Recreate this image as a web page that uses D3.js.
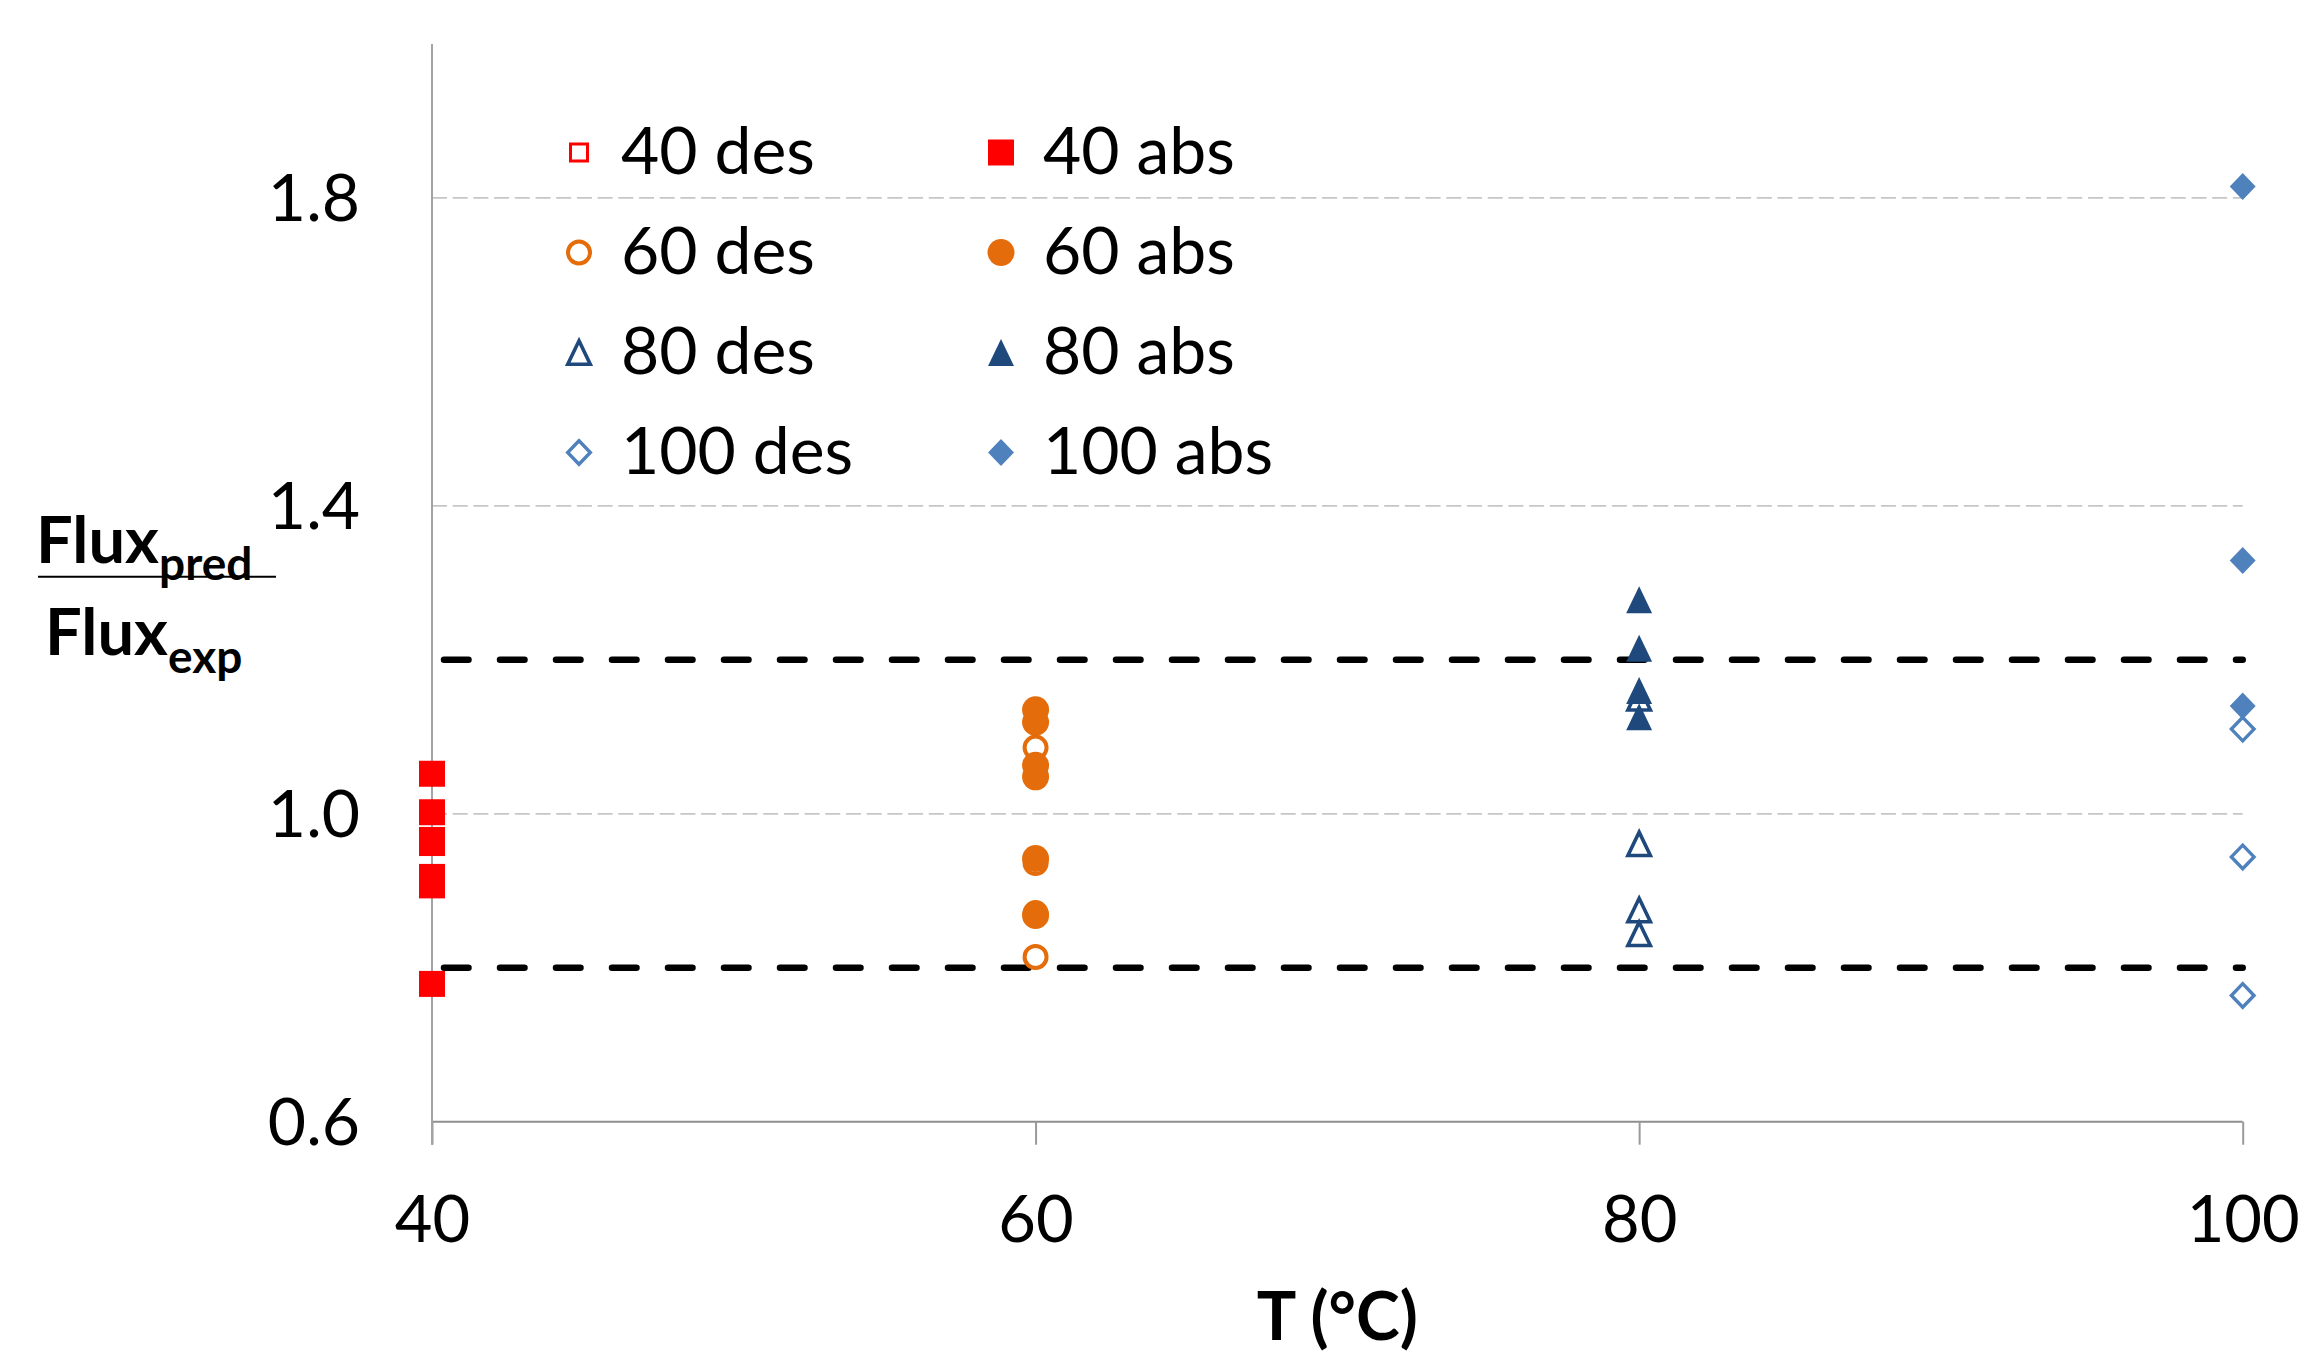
<!DOCTYPE html>
<html>
<head>
<meta charset="utf-8">
<script src="https://cdn.jsdelivr.net/npm/d3@7"></script>
<style>
  html, body { margin: 0; padding: 0; background: #ffffff; }
  svg { display: block; }
</style>
</head>
<body>
<svg id="chart" width="2302" height="1357"></svg>
<script>
// ---------- data ----------
const xTicks = [40, 60, 80, 100];
const yTicks = [0.6, 1.0, 1.4, 1.8];
const gridValues = [1.0, 1.4, 1.8];
const boundValues = [0.8, 1.2];

const des40 = [1.052, 1.002, 0.966, 0.918, 0.779];
const abs40 = [1.052, 1.002, 0.966, 0.962, 0.918, 0.907, 0.779];
const des60 = [1.086, 0.936, 0.871, 0.814];
const abs60 = [1.135, 1.119, 1.063, 1.048, 0.942, 0.868];
const des80 = [1.150, 0.961, 0.875, 0.844];
const abs80 = [1.278, 1.215, 1.160, 1.126];
const des100 = [1.110, 0.944, 0.764];
const abs100 = [1.815, 1.329, 1.140];

const seriesNames = ["40 des", "40 abs", "60 des", "60 abs", "80 des", "80 abs", "100 des", "100 abs"];

// ---------- layout ----------
const svg = d3.select("#chart");
const x = d3.scaleLinear().domain([40, 100]).range([432, 2242.7]);
const y = d3.scaleLinear().domain([0.6, 2.0]).range([1121.7, 44]);

const RED = "#FF0000", ORANGE = "#E46C0A", NAVY = "#1F497D", BLUE = "#4F81BD";
const FONT = "Lato, 'Liberation Sans', sans-serif";

// custom bbox-centred symbols; size = outer extent in px
const shapes = {
  square: { draw(c, s) { const h = s / 2; c.moveTo(-h, -h); c.lineTo(h, -h); c.lineTo(h, h); c.lineTo(-h, h); c.closePath(); } },
  circle: { draw(c, s) { const r = s / 2; c.moveTo(r, 0); c.arc(0, 0, r, 0, 2 * Math.PI); c.closePath(); } },
  triangle: { draw(c, s) { const h = s / 2, w = s * 0.96 / 2; c.moveTo(0, -h); c.lineTo(w, h); c.lineTo(-w, h); c.closePath(); } },
  diamond: { draw(c, s) { const h = s / 2, w = s * 0.96 / 2; c.moveTo(0, -h); c.lineTo(w, 0); c.lineTo(0, h); c.lineTo(-w, 0); c.closePath(); } }
};

const series = [
  { name: seriesNames[0], t: 40, vals: des40, shape: "square", color: RED, open: true, size: 20, sw: 3 },
  { name: seriesNames[1], t: 40, vals: abs40, shape: "square", color: RED, open: false, size: 26, sw: 0 },
  { name: seriesNames[2], t: 60, vals: des60, shape: "circle", color: ORANGE, open: true, size: 26, sw: 4 },
  { name: seriesNames[3], t: 60, vals: abs60, shape: "circle", color: ORANGE, open: false, size: 27, sw: 0 },
  { name: seriesNames[4], t: 80, vals: des80, shape: "triangle", color: NAVY, open: true, size: 27, sw: 3.6 },
  { name: seriesNames[5], t: 80, vals: abs80, shape: "triangle", color: NAVY, open: false, size: 27, sw: 0 },
  { name: seriesNames[6], t: 100, vals: des100, shape: "diamond", color: BLUE, open: true, size: 27, sw: 3.4 },
  { name: seriesNames[7], t: 100, vals: abs100, shape: "diamond", color: BLUE, open: false, size: 27, sw: 0 }
];

function markerPath(s) {
  const inner = s.open ? s.size - s.sw : s.size;
  return d3.symbol().type(shapes[s.shape]).size(inner)();
}
function styleMarker(sel, s) {
  if (s.open) sel.attr("fill", "#ffffff").attr("stroke", s.color).attr("stroke-width", s.sw).attr("stroke-linejoin", "miter");
  else sel.attr("fill", s.color).attr("stroke", "none");
}

// ---------- gridlines ----------
svg.append("g").selectAll("line").data(gridValues).join("line")
  .attr("x1", x(40)).attr("x2", x(100))
  .attr("y1", d => y(d)).attr("y2", d => y(d))
  .attr("stroke", "#C6C6C6").attr("stroke-width", 1.8)
  .attr("stroke-dasharray", "15 5.7");

// ---------- axes ----------
const xAxis = d3.axisBottom(x).tickValues(xTicks).tickSize(23).tickFormat(d3.format("d"));
const gx = svg.append("g").attr("transform", `translate(0,${y(0.6)})`).call(xAxis);
gx.select(".domain").attr("stroke", "#8E8E8E").attr("stroke-width", 2).attr("d", `M${x(40)},0H${x(100)}`);
gx.selectAll(".tick line").attr("stroke", "#9A9A9A").attr("stroke-width", 2);
gx.selectAll(".tick text").attr("y", 120).attr("dy", 0)
  .attr("font-family", FONT).attr("font-size", 65).attr("fill", "#000");

const yAxis = d3.axisLeft(y).tickValues(yTicks).tickSize(0).tickPadding(72).tickFormat(d3.format(".1f"));
const gy = svg.append("g").attr("transform", `translate(${x(40)},0)`).call(yAxis);
gy.select(".domain").attr("stroke", "#A3A3A3").attr("stroke-width", 2).attr("d", `M0,${y(2.0)}V${y(0.6) + 23}`);
gy.selectAll(".tick text").attr("dy", 23)
  .attr("font-family", FONT).attr("font-size", 66).attr("fill", "#000");

// ---------- bound lines ----------
svg.append("g").selectAll("line").data(boundValues).join("line")
  .attr("x1", x(40)).attr("x2", x(100))
  .attr("y1", d => y(d)).attr("y2", d => y(d))
  .attr("stroke", "#000").attr("stroke-width", 6.5)
  .attr("stroke-linecap", "round")
  .attr("stroke-dasharray", "24.5 31.5").attr("stroke-dashoffset", 44);

// ---------- points ----------
series.forEach(s => {
  const g = svg.append("g");
  g.selectAll("path").data(s.vals).join("path")
    .attr("d", markerPath(s))
    .attr("transform", d => `translate(${x(s.t)},${y(d)})`)
    .call(sel => styleMarker(sel, s));
});

// ---------- legend ----------
const legendCols = [579, 1001];
const legendRows = [152.5, 252.5, 352.5, 452.5];
const lg = svg.append("g");
series.forEach((s, i) => {
  const col = i % 2, row = Math.floor(i / 2);
  const cx = legendCols[col], cy = legendRows[row];
  lg.append("path").attr("d", markerPath(s)).attr("transform", `translate(${cx},${cy})`).call(sel => styleMarker(sel, s));
  lg.append("text").attr("x", cx + 42).attr("y", cy + 21.5)
    .attr("font-family", FONT).attr("font-size", 66).attr("fill", "#000")
    .text(s.name);
});

// ---------- axis titles ----------
svg.append("text").attr("x", (x(40) + x(100)) / 2).attr("y", 1340).attr("text-anchor", "middle")
  .attr("font-family", FONT).attr("font-weight", 700).attr("font-size", 66)
  .text("T (°C)");

const yl = svg.append("g").attr("font-family", FONT).attr("font-weight", 700).attr("fill", "#000");
const t1 = yl.append("text").attr("x", 36).attr("y", 562.7).attr("font-size", 65);
t1.append("tspan").text("Flux");
t1.append("tspan").attr("dy", 17.3).attr("font-size", 46).text("pred");
yl.append("line").attr("x1", 38).attr("x2", 276).attr("y1", 576.7).attr("y2", 576.7).attr("stroke", "#000").attr("stroke-width", 2);
const t2 = yl.append("text").attr("x", 45).attr("y", 655).attr("font-size", 65);
t2.append("tspan").text("Flux");
t2.append("tspan").attr("dy", 18).attr("font-size", 46).text("exp");
</script>
</body>
</html>
